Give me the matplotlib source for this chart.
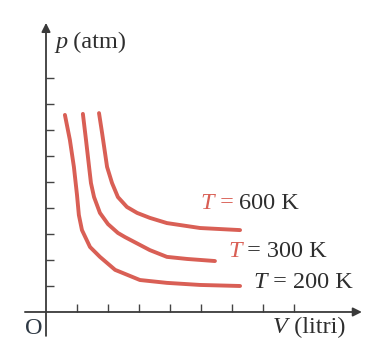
import matplotlib.pyplot as plt

# values (V in litri, p in atm)
v_200 = [0.61, 0.77, 0.90, 1.00, 1.06, 1.16, 1.42, 1.74, 2.23, 3.03, 3.90, 4.97, 6.26]
p_200 = [7.58, 6.62, 5.58, 4.50, 3.73, 3.15, 2.50, 2.12, 1.62, 1.23, 1.12, 1.04, 1.00]

v_300 = [1.19, 1.29, 1.39, 1.45, 1.55, 1.74, 2.00, 2.32, 2.55, 3.35, 3.90, 4.55, 5.45]
p_300 = [7.62, 6.62, 5.58, 4.96, 4.42, 3.81, 3.38, 3.04, 2.88, 2.38, 2.12, 2.04, 1.96]

v_600 = [1.71, 1.81, 1.90, 1.97, 2.13, 2.32, 2.61, 2.94, 3.35, 3.90, 4.97, 6.26]
p_600 = [7.65, 6.88, 6.15, 5.58, 4.96, 4.42, 4.04, 3.81, 3.62, 3.42, 3.23, 3.15]

x_ticks = [1, 2, 3, 4, 5, 6, 7, 8]
y_ticks = [1, 2, 3, 4, 5, 6, 7, 8, 9]

red = '#d95f55'
dark = '#2e2e2e'

plt.rcParams['font.family'] = ['Liberation Serif', 'DejaVu Serif']
fs = 17.5

fig = plt.figure(figsize=(3.74, 3.61), dpi=100)
ax = fig.add_axes([0, 0, 1, 1])
ax.set_xlim(-1.484, 10.581)
ax.set_ylim(-1.885, 12.0)

for s in ['top', 'right']:
    ax.spines[s].set_visible(False)
for s in ['left', 'bottom']:
    ax.spines[s].set_position(('data', 0))
    ax.spines[s].set_color('none')
ax.set_xticks(x_ticks)
ax.set_yticks(y_ticks)
ax.set_xticklabels([])
ax.set_yticklabels([])
ax.tick_params(direction='in', length=5.5, width=1.0, color='#444444')

# axes with arrow heads
arrow = dict(arrowstyle='-|>', mutation_scale=13, lw=1.3, color='#3a3a3a', shrinkA=0, shrinkB=0)
ax.annotate('', xy=(10.19, 0), xytext=(-0.68, 0), arrowprops=arrow)
ax.annotate('', xy=(0, 11.12), xytext=(0, -0.92), arrowprops=arrow)

for v, p in [(v_200, p_200), (v_300, p_300), (v_600, p_600)]:
    ax.plot(v, p, color=red, lw=2.8, solid_capstyle='round', solid_joinstyle='round')


def chain(x, y, pieces):
    prev = None
    for txt, col, style in pieces:
        if prev is None:
            prev = ax.text(x, y, txt, color=col, style=style, fontsize=fs,
                           ha='left', va='center')
        else:
            prev = ax.annotate(txt, xy=(1, 0), xycoords=prev, color=col,
                               style=style, fontsize=fs, ha='left', va='bottom')
    return prev


chain(0.29, 10.35, [('p', dark, 'italic'), (' (atm)', dark, 'normal')])
chain(7.32, -0.58, [('V', dark, 'italic'), (' (litri)', dark, 'normal')])
ax.text(-0.10, -0.62, 'O', color='#2f3a45', fontsize=fs, ha='right', va='center')

chain(4.97, 4.19, [('T', red, 'italic'), (' = ', red, 'normal'), ('600 K', dark, 'normal')])
chain(5.87, 2.31, [('T', red, 'italic'), (' = 300 K', dark, 'normal')])
chain(6.68, 1.15, [('T', dark, 'italic'), (' = 200 K', dark, 'normal')])

fig.savefig('out.png', dpi=100)
